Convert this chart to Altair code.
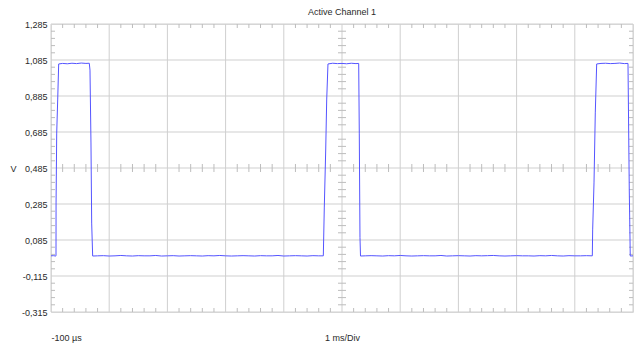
import altair as alt
import pandas as pd

# ---- trace (time in ms, voltage in V) ----
time_ms = [
    -0.100, -0.060, -0.020, -0.014,
    -0.013, -0.002, 0.015, 0.032,
    0.100, 0.180, 0.260, 0.340, 0.420, 0.500, 0.558,
    0.570, 0.587, 0.599, 0.616,
    0.70, 0.80, 0.90, 1.00, 1.10, 1.20, 1.30, 1.40, 1.50, 1.60,
    1.70, 1.80, 1.90, 2.00, 2.10, 2.20, 2.30, 2.40, 2.50, 2.60,
    2.70, 2.80, 2.90, 3.00, 3.10, 3.20, 3.30, 3.40, 3.50, 3.60,
    3.70, 3.80, 3.90, 4.00, 4.10, 4.20, 4.30, 4.40, 4.50, 4.579,
    4.596, 4.620, 4.637, 4.659,
    4.740, 4.820, 4.900, 4.980, 5.060, 5.140, 5.187,
    5.197, 5.209, 5.218,
    5.30, 5.40, 5.50, 5.60, 5.70, 5.80, 5.90, 6.00, 6.10, 6.20,
    6.30, 6.40, 6.50, 6.60, 6.70, 6.80, 6.90, 7.00, 7.10, 7.20,
    7.30, 7.40, 7.50, 7.60, 7.70, 7.80, 7.90, 8.00, 8.10, 8.20,
    8.30, 8.40, 8.50, 8.60, 8.70, 8.80, 8.90, 9.00, 9.10, 9.201,
    9.207, 9.230, 9.252, 9.276,
    9.350, 9.430, 9.510, 9.590, 9.670, 9.750, 9.814,
    9.836, 9.853, 9.900,
]
volts = [
    -0.003, -0.002, -0.004, -0.003,
    0.291, 0.679, 0.863, 1.063,
    1.066, 1.064, 1.067, 1.065, 1.068, 1.066, 1.067,
    1.029, 0.624, 0.179, -0.004,
    -0.003, -0.002, -0.004, -0.003, -0.001, -0.003, -0.004, -0.002, -0.003, -0.003,
    -0.001, -0.004, -0.003, -0.002, -0.004, -0.003, -0.002, -0.003, -0.004, -0.002,
    -0.003, -0.001, -0.003, -0.004, -0.003, -0.002, -0.003, -0.004, -0.002, -0.003,
    -0.003, -0.001, -0.004, -0.003, -0.002, -0.003, -0.004, -0.002, -0.003, -0.003,
    0.268, 0.585, 0.863, 1.063,
    1.067, 1.065, 1.066, 1.064, 1.067, 1.065, 1.066,
    0.679, 0.100, -0.004,
    -0.003, -0.002, -0.003, -0.004, -0.002, -0.003, -0.001, -0.003, -0.004, -0.003,
    -0.002, -0.003, -0.003, -0.001, -0.004, -0.003, -0.002, -0.003, -0.004, -0.002,
    -0.003, -0.002, -0.001, -0.003, -0.004, -0.003, -0.002, -0.003, -0.003, -0.004,
    -0.002, -0.003, -0.001, -0.003, -0.004, -0.002, -0.003, -0.003, -0.002, -0.003,
    0.141, 0.402, 0.791, 1.063,
    1.066, 1.067, 1.065, 1.066, 1.068, 1.065, 1.066,
    0.363, -0.004, -0.003,
]

# ---- axis structure: 10 x 1 ms divisions, 8 x 0.2 V divisions ----
x_major = [-0.1, 0.9, 1.9, 2.9, 3.9, 4.9, 5.9, 6.9, 7.9, 8.9, 9.9]
y_major = [-0.315, -0.115, 0.085, 0.285, 0.485, 0.685, 0.885, 1.085, 1.285]
x_minor = [round(-0.1 + 0.2 * k, 3) for k in range(1, 50) if k % 5]
y_minor = [round(-0.315 + 0.04 * k, 3) for k in range(1, 40) if k % 5]
x_center = 4.9
y_center = 0.485

title_text = "Active Channel 1"
x_title = "1 ms/Div"
x_start_label = "-100 µs"
y_title = "V"

FONT = "Liberation Sans"
GRID = "#cfcfcf"
TICK = "#bdbdbd"
TEXT = "#2a2a2a"

xs = alt.Scale(domain=[-0.1, 9.9], nice=False, zero=False)
ys = alt.Scale(domain=[-0.315, 1.285], nice=False, zero=False)

trace = pd.DataFrame({"t": time_ms, "v": volts})
xmaj = pd.DataFrame({"t": x_major})
ymaj = pd.DataFrame({"v": y_major})
xmin = pd.DataFrame({"t": x_minor, "yc": [y_center] * len(x_minor)})
ymin = pd.DataFrame({"v": y_minor, "xc": [x_center] * len(y_minor)})

x_axis = alt.Axis(
    values=[-0.1],
    labelExpr="'" + x_start_label + "'",
    labelAlign="left",
    labelBaseline="middle",
    labelPadding=25,
    labelFlush=False,
    ticks=False,
    domain=False,
    grid=False,
    title=x_title,
    titleY=25,
    titleBaseline="middle",
    titleFontWeight="normal",
    labelFont=FONT, titleFont=FONT,
    labelFontSize=9, titleFontSize=9,
    labelColor=TEXT, titleColor=TEXT,
)
y_axis = alt.Axis(
    values=y_major,
    labelExpr="replace(replace(format(datum.value, '.3f'), '.', ','), '\u2212', '-')",
    ticks=False,
    domain=False,
    grid=False,
    labelPadding=4,
    labelFont=FONT, titleFont=FONT,
    labelFontSize=9, titleFontSize=9,
    labelColor=TEXT, titleColor=TEXT,
    title=y_title,
    titleAngle=0,
    titleX=-38,
    titleY=144,
    titleAlign="center",
    titleBaseline="middle",
    titleFontWeight="normal",
)


def X(field):
    return alt.X(field, scale=xs, axis=x_axis)


def Y(field):
    return alt.Y(field, scale=ys, axis=y_axis)


vgrid = alt.Chart(xmaj).mark_rule(color=GRID, strokeWidth=1).encode(x=X("t:Q"))
hgrid = alt.Chart(ymaj).mark_rule(color=GRID, strokeWidth=1).encode(y=Y("v:Q"))

top_ticks = alt.Chart(xmin).mark_rule(color=TICK).encode(
    x=X("t:Q"), y=alt.value(0), y2=alt.value(4)
)
bot_ticks = alt.Chart(xmin).mark_rule(color=TICK).encode(
    x=X("t:Q"), y=alt.value(288), y2=alt.value(284)
)
mid_xticks = alt.Chart(xmin).mark_rule(color=TICK, yOffset=-4, y2Offset=4).encode(
    x=X("t:Q"), y=Y("yc:Q"), y2="yc:Q"
)
left_ticks = alt.Chart(ymin).mark_rule(color=TICK).encode(
    y=Y("v:Q"), x=alt.value(0), x2=alt.value(4)
)
right_ticks = alt.Chart(ymin).mark_rule(color=TICK).encode(
    y=Y("v:Q"), x=alt.value(582), x2=alt.value(578)
)
mid_yticks = alt.Chart(ymin).mark_rule(color=TICK, xOffset=-4, x2Offset=4).encode(
    y=Y("v:Q"), x=X("xc:Q"), x2="xc:Q"
)

line = alt.Chart(trace).mark_line(color="#5555ff", strokeWidth=1, interpolate="linear").encode(
    x=X("t:Q"),
    y=Y("v:Q"),
    order=alt.Order("t:Q"),
)

chart = alt.layer(
    vgrid, hgrid, top_ticks, bot_ticks, mid_xticks, left_ticks, right_ticks, mid_yticks, line
).properties(
    width=582,
    height=288,
    autosize=alt.AutoSizeParams(type="none"),
    padding={"left": 51, "top": 24, "right": 5, "bottom": 32},
    title=alt.TitleParams(
        title_text, font=FONT, fontSize=9, fontWeight="normal", color=TEXT,
        anchor="middle", offset=3,
    ),
).configure_view(stroke=None).configure(background="white")

chart.save("out.html", embed_options={"renderer": "svg", "actions": False})
